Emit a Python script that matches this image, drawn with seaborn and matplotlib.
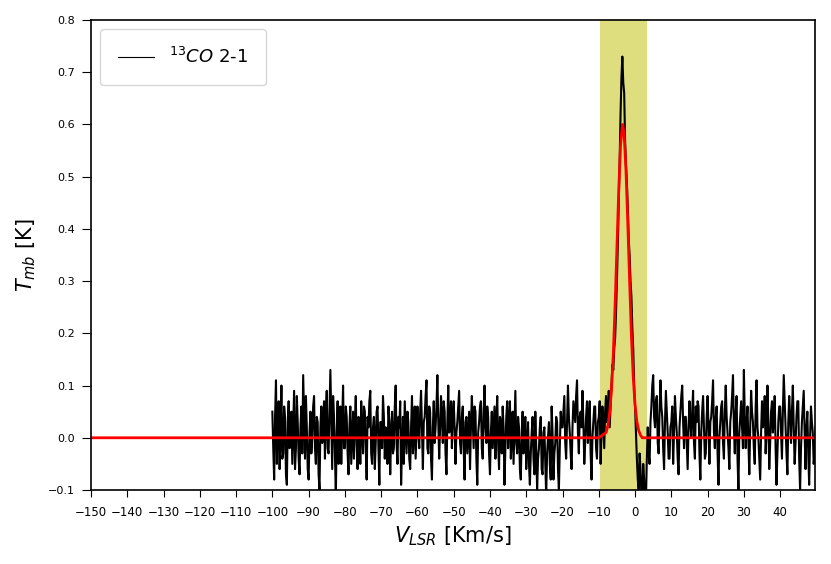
import numpy as np
import pandas as pd
import seaborn as sns
import matplotlib
matplotlib.use("Agg")
import matplotlib.pyplot as plt

# 13CO 2-1 spectrum, channels every 0.25 km/s starting at -100 km/s
v_start, v_step = -100.0, 0.25
tmb = [
    # -100 .. -90.25
    0.05, -0.02, -0.08, 0.04, 0.11, -0.05, 0.02, 0.07, -0.06, 0.01, 0.10, -0.04, -0.03, 0.06, 0.04, -0.07, -0.09, 0.03, 0.07, -0.02,
    0.01, 0.05, -0.05, 0.02, 0.09, -0.06, -0.02, 0.08, 0.03, -0.04, -0.07, 0.02, 0.06, -0.03, 0.12, 0.04, -0.04, 0.08, 0.02, -0.06,
    # -90 .. -80.25
    -0.08, 0.01, 0.05, -0.03, 0.00, 0.06, 0.08, -0.02, -0.05, 0.04, 0.03, -0.07, -0.10, 0.02, 0.06, -0.01, 0.02, 0.07, -0.04, 0.05,
    0.09, -0.02, -0.03, 0.05, 0.13, 0.03, -0.06, 0.08, 0.04, -0.03, -0.11, 0.01, 0.07, -0.05, 0.01, 0.06, -0.05, 0.03, 0.10, -0.02,
    # -80 .. -70.25
    -0.02, 0.06, 0.04, -0.03, -0.07, 0.02, 0.06, -0.05, 0.00, 0.05, -0.04, 0.03, 0.08, -0.01, -0.06, 0.04, 0.03, -0.05, 0.07, 0.01,
    -0.03, 0.06, 0.05, -0.02, -0.08, 0.04, 0.02, 0.07, 0.09, -0.03, -0.05, 0.02, 0.04, -0.06, -0.01, 0.05, 0.06, -0.02, -0.09, 0.03,
    # -70 .. -60.25
    0.03, -0.02, 0.08, 0.04, -0.04, 0.02, 0.01, -0.05, 0.06, 0.03, -0.07, 0.01, 0.05, -0.03, -0.02, 0.06, 0.10, -0.01, -0.05, 0.04,
    0.02, 0.07, -0.09, -0.02, 0.04, -0.05, 0.07, 0.02, -0.03, 0.05, 0.03, -0.04, -0.06, 0.02, 0.08, -0.03, 0.00, 0.06, -0.04, 0.01,
    # -60 .. -50.25
    0.06, 0.01, -0.02, 0.05, 0.09, 0.02, -0.06, 0.03, 0.04, 0.08, 0.11, -0.02, -0.03, 0.06, 0.05, -0.04, -0.08, 0.02, 0.07, -0.01,
    0.02, 0.06, 0.12, 0.03, -0.04, 0.02, 0.08, 0.04, -0.01, 0.07, 0.05, -0.03, -0.07, 0.03, 0.10, 0.01, 0.03, 0.07, -0.02, 0.04,
    # -50 .. -40.25
    0.07, 0.02, -0.05, 0.01, 0.03, 0.06, 0.09, -0.01, -0.03, 0.04, 0.06, -0.02, -0.08, 0.03, 0.04, -0.03, 0.01, 0.05, -0.06, 0.02,
    0.08, 0.03, -0.02, 0.06, 0.05, -0.04, -0.09, 0.01, 0.03, 0.06, 0.07, -0.02, -0.04, 0.05, 0.10, 0.02, -0.01, 0.06, 0.04, -0.03,
    # -40 .. -30.25
    -0.07, 0.01, 0.05, -0.02, 0.02, 0.06, -0.04, 0.03, 0.08, -0.01, -0.06, 0.04, 0.03, -0.03, 0.06, 0.02, -0.09, -0.02, 0.04, 0.07,
    -0.02, 0.03, 0.07, -0.04, 0.00, 0.05, -0.05, 0.02, 0.09, -0.01, -0.03, 0.04, 0.02, -0.06, -0.08, 0.01, 0.05, -0.03, -0.01, 0.04,
    # -30 .. -20.25
    -0.06, -0.01, 0.03, -0.05, -0.09, -0.03, 0.01, 0.04, -0.04, -0.07, 0.05, -0.02, -0.10, -0.04, -0.02, 0.02, 0.04, -0.06, -0.07, 0.01,
    0.02, -0.05, -0.11, -0.03, 0.00, 0.03, -0.05, -0.08, 0.06, 0.01, -0.08, -0.03, -0.01, 0.04, 0.03, -0.06, -0.10, -0.02, 0.05, 0.02,
    # -20 .. -10.25
    0.02, 0.05, 0.08, -0.01, -0.04, 0.03, 0.10, 0.04, 0.01, -0.03, -0.06, 0.02, 0.07, 0.05, 0.03, 0.08, 0.11, 0.01, -0.03, 0.04,
    0.05, 0.02, 0.09, 0.03, -0.05, -0.01, 0.04, 0.07, -0.01, 0.02, 0.07, -0.03, -0.08, 0.00, 0.03, 0.06, 0.06, -0.02, -0.04, 0.03,
    # -10 .. -0.25 (the line)
    0.04, 0.07, -0.05, 0.01, 0.06, 0.02, -0.02, 0.05, 0.08, 0.03, 0.05, 0.09, 0.02, 0.06, 0.10, 0.14, 0.13, 0.17, 0.19, 0.24,
    0.30, 0.37, 0.45, 0.53, 0.62, 0.69, 0.73, 0.68, 0.66, 0.57, 0.52, 0.49, 0.44, 0.38, 0.35, 0.30, 0.27, 0.21, 0.17, 0.10,
    # 0 .. 9.75
    0.06, 0.01, -0.04, -0.08, -0.10, -0.03, -0.06, -0.11, -0.12, -0.05, -0.08, -0.13, -0.12, -0.04, 0.02, -0.03, -0.05, 0.03, 0.06, 0.10,
    0.12, 0.04, 0.02, 0.07, 0.08, -0.01, -0.03, 0.05, 0.11, 0.06, 0.04, -0.02, -0.06, 0.03, 0.09, 0.05, 0.01, -0.04, -0.04, 0.02,
    # 10 .. 19.75
    0.03, 0.06, -0.05, 0.01, 0.08, 0.04, 0.01, -0.04, -0.07, 0.02, 0.05, 0.08, 0.10, 0.03, -0.02, 0.04, 0.04, -0.01, -0.06, 0.02,
    0.07, 0.03, 0.00, 0.05, 0.09, -0.01, -0.04, 0.06, 0.03, 0.07, 0.06, -0.03, -0.08, 0.01, 0.05, 0.08, 0.02, -0.04, -0.03, 0.04,
    # 20 .. 29.75
    0.08, 0.02, -0.05, 0.03, 0.04, 0.07, 0.11, 0.01, -0.02, 0.04, 0.06, -0.03, -0.09, 0.00, 0.03, 0.06, 0.07, -0.01, -0.04, 0.05,
    0.10, 0.04, 0.01, -0.02, -0.06, 0.03, 0.05, 0.08, 0.12, 0.02, -0.03, 0.05, 0.08, -0.04, -0.10, 0.01, 0.04, 0.07, 0.02, -0.02,
    # 30 .. 39.75
    0.13, 0.04, -0.02, 0.03, 0.06, -0.01, -0.07, 0.02, 0.09, 0.05, 0.03, -0.02, -0.05, 0.06, 0.11, 0.02, 0.00, -0.04, -0.08, 0.01,
    0.07, 0.02, 0.04, 0.08, -0.03, 0.01, 0.10, 0.03, -0.06, -0.01, 0.05, 0.07, 0.01, 0.04, 0.08, -0.02, -0.09, -0.03, 0.03, 0.06,
    # 40 .. 49.75
    0.06, 0.01, -0.04, 0.05, 0.12, 0.07, 0.02, -0.03, -0.07, 0.03, 0.08, 0.04, -0.01, 0.05, 0.10, 0.02, -0.05, -0.01, 0.04, 0.07,
    0.07, -0.04, -0.10, -0.02, 0.03, 0.06, 0.09, 0.01, -0.06, 0.02, 0.05, -0.03, -0.09, 0.00, 0.06, 0.03, 0.01, -0.05, -0.03, 0.02,
]
vel = v_start + v_step * np.arange(len(tmb))

# gaussian fit
fit_v = [-150, -10, -8, -7.5, -7, -6.5, -6, -5.5, -5, -4.5, -4, -3.5, -3.4,
         -3, -2.5, -2, -1.5, -1, -0.5, 0, 0.5, 1, 1.5, 2, 50]
fit_t = [0, 0, 0.01, 0.023, 0.048, 0.092, 0.16, 0.254, 0.364, 0.474, 0.56,
         0.598, 0.6, 0.58, 0.512, 0.41, 0.30, 0.195, 0.116, 0.063, 0.031,
         0.014, 0.005, 0, 0]

# integration window
win_lo, win_hi = -9.6, 3.3

df = pd.DataFrame({'vel': vel, 'tmb': tmb})
fit = pd.DataFrame({'vel': fit_v, 'tmb': fit_t})

fig = plt.figure(figsize=(8.31, 5.64), dpi=100)
ax = fig.add_axes([0.1095, 0.1312, 0.8712, 0.8333])

ax.axvspan(win_lo, win_hi, color='y', alpha=0.5, lw=0, zorder=0)
sns.lineplot(data=df, x='vel', y='tmb', ax=ax, color='k', lw=1.5,
             label=r'$^{13}CO$ 2-1', sort=False)
sns.lineplot(data=fit, x='vel', y='tmb', ax=ax, color='red', lw=2,
             legend=False, sort=False)

ax.set_xlim(-150, 49.6)
ax.set_ylim(-0.1, 0.8)
ax.set_xticks(np.arange(-150, 50, 10))
ax.set_yticks(np.arange(-0.1, 0.81, 0.1))
ax.tick_params(axis='x', labelsize=8.5, length=5, pad=6.5)
ax.tick_params(axis='y', labelsize=8, length=6.5, pad=5)
ax.set_xlabel(r'$V_{LSR}$ [Km/s]', fontsize=15)
ax.set_ylabel(r'$T_{mb}$ [K]', fontsize=15, labelpad=7)
for s in ax.spines.values():
    s.set_linewidth(1.2)

leg = ax.legend(loc='upper left', fontsize=13, borderpad=1.0)
for h in leg.get_lines():
    h.set_linewidth(0.8)

fig.savefig('out.png', dpi=100)
